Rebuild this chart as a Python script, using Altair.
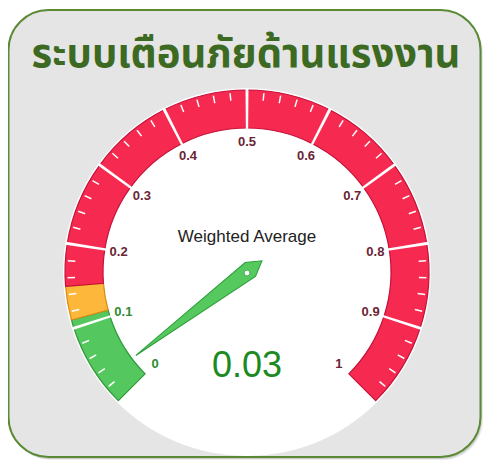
import math
import altair as alt
import pandas as pd

# ---------------- data ----------------
title_text = "ระบบเตือนภัยด้านแรงงาน"
subtitle_text = "Weighted Average"
value = 0.03

band_from = [0.0, 0.11, 0.15]
band_to = [0.11, 0.15, 1.0]
band_fill = ["#55c75f", "#fdb73a", "#f62a50"]
band_edge = ["#2f9a3b", "#d98a10", "#c4123a"]

major_ticks = [0.0, 0.1, 0.2, 0.3, 0.4, 0.5, 0.6, 0.7, 0.8, 0.9, 1.0]
major_labels = ["0", "0.1", "0.2", "0.3", "0.4", "0.5", "0.6", "0.7", "0.8", "0.9", "1"]
minor_step = 0.02

# ---------------- geometry / style ----------------
W, H = 475, 452
CX, CY = 239, 264          # gauge centre inside the svg
R_OUT, R_IN = 182, 144
R_DISC = 184
R_LABEL = 130
PI = math.pi
theta_scale = alt.Scale(domain=[0, 1], range=[5 * PI / 4, 11 * PI / 4])

# band segments (split at every major tick)
seg_rows = []
for f, t, c, e in zip(band_from, band_to, band_fill, band_edge):
    cuts = sorted(set([f, t] + [m for m in major_ticks if f < m < t]))
    for a, b in zip(cuts[:-1], cuts[1:]):
        seg_rows.append({"lo": a, "hi": b, "fill": c, "edge": e})
seg_df = pd.DataFrame(seg_rows)

sep_w = 0.0017
sep_df = pd.DataFrame({"lo": [m - sep_w for m in major_ticks[1:-1]],
                       "hi": [m + sep_w for m in major_ticks[1:-1]]})

n_minor = int(round(1 / minor_step))
minor_vals = [round(i * minor_step, 4) for i in range(1, n_minor)]
minor_vals = [v for v in minor_vals if abs(v * 10 - round(v * 10)) > 1e-6]
min_w = 0.0009
minor_df = pd.DataFrame({"lo": [v - min_w for v in minor_vals],
                         "hi": [v + min_w for v in minor_vals]})

label_df = pd.DataFrame({"v": major_ticks, "label": major_labels})
value_df = pd.DataFrame({"v": [value], "txt": [f"{value:.2f}"]})
one = pd.DataFrame({"a": [0]})

# ---------------- layers ----------------
shadow2 = alt.Chart(one).mark_rect(cornerRadius=40, fill="#000000", opacity=0.08).encode(
    x=alt.value(3), x2=alt.value(W), y=alt.value(5), y2=alt.value(H))
shadow1 = alt.Chart(one).mark_rect(cornerRadius=40, fill="#000000", opacity=0.12).encode(
    x=alt.value(1.5), x2=alt.value(W - 1), y=alt.value(3.5), y2=alt.value(H - 1))
panel = alt.Chart(one).mark_rect(cornerRadius=40, fill="#e5e5e5", stroke="#5a8a34",
                                 strokeWidth=2).encode(
    x=alt.value(0.5), x2=alt.value(W - 2.5), y=alt.value(2), y2=alt.value(H - 3))

title = alt.Chart(one).mark_text(
    text=title_text, font="Noto Sans Thai", fontSize=40, fontWeight="bold",
    fill="#3d6a22", align="center", baseline="middle").encode(
    x=alt.value(238), y=alt.value(47))

disc = alt.Chart(one).mark_arc(radius=R_DISC, radius2=0, theta=0, theta2=2 * PI,
                               fill="#ffffff").encode(x=alt.value(CX), y=alt.value(CY))

bands = alt.Chart(seg_df).mark_arc(radius=R_OUT, radius2=R_IN, strokeWidth=1.2).encode(
    theta=alt.Theta("lo:Q", scale=theta_scale),
    theta2="hi:Q",
    fill=alt.Fill("fill:N", scale=None),
    stroke=alt.Stroke("edge:N", scale=None),
    x=alt.value(CX), y=alt.value(CY))

seps = alt.Chart(sep_df).mark_arc(radius=R_OUT + 1.5, radius2=R_IN - 1.5, fill="#ffffff").encode(
    theta=alt.Theta("lo:Q", scale=theta_scale), theta2="hi:Q",
    x=alt.value(CX), y=alt.value(CY))

minors = alt.Chart(minor_df).mark_arc(radius=R_OUT - 2.5, radius2=R_OUT - 10,
                                      fill="#ffffff").encode(
    theta=alt.Theta("lo:Q", scale=theta_scale), theta2="hi:Q",
    x=alt.value(CX), y=alt.value(CY))

labels = alt.Chart(label_df).mark_text(font="Liberation Sans", fontSize=13, fontWeight="bold",
                                       align="center", baseline="middle").encode(
    theta=alt.Theta("v:Q", scale=theta_scale),
    radius=alt.value(R_LABEL),
    text="label:N",
    fill=alt.condition("datum.v <= 0.1", alt.value("#2f8a34"), alt.value("#6a2535")),
    x=alt.value(CX), y=alt.value(CY))

subtitle = alt.Chart(one).mark_text(text=subtitle_text, font="Liberation Sans", fontSize=17,
                                    fill="#222222", align="center", baseline="middle").encode(
    x=alt.value(CX), y=alt.value(229))

needle_path = "M 0 -1 L 0.062 0.03 L 0 0.135 L -0.062 0.03 Z"
needle = alt.Chart(value_df).mark_point(shape=needle_path, filled=True, fill="#55c95e",
                                        stroke="#2f9e3c", strokeWidth=1, opacity=1,
                                        size=(2 * 139) ** 2).encode(
    angle=alt.Angle("v:Q", scale=alt.Scale(domain=[0, 1], range=[225, 495])),
    x=alt.value(CX), y=alt.value(CY))
pivot = alt.Chart(one).mark_point(shape="circle", filled=True, fill="#ffffff",
                                  stroke="#2f9e3c", strokeWidth=0.8, opacity=1, size=34).encode(
    x=alt.value(CX), y=alt.value(CY + 1))

value_text = alt.Chart(value_df).mark_text(font="Liberation Sans", fontSize=36,
                                           fill="#1b8a1f", align="center",
                                           baseline="middle").encode(
    text="txt:N", x=alt.value(CX), y=alt.value(358))

chart = alt.layer(
    shadow2, shadow1, panel, title,
    disc, bands, seps, minors, labels, subtitle, needle, pivot, value_text
).properties(width=W, height=H, padding=0, autosize="none", background="#ffffff"
).configure_view(stroke=None)

chart.save("out.html", embed_options={"renderer": "svg", "actions": False})
